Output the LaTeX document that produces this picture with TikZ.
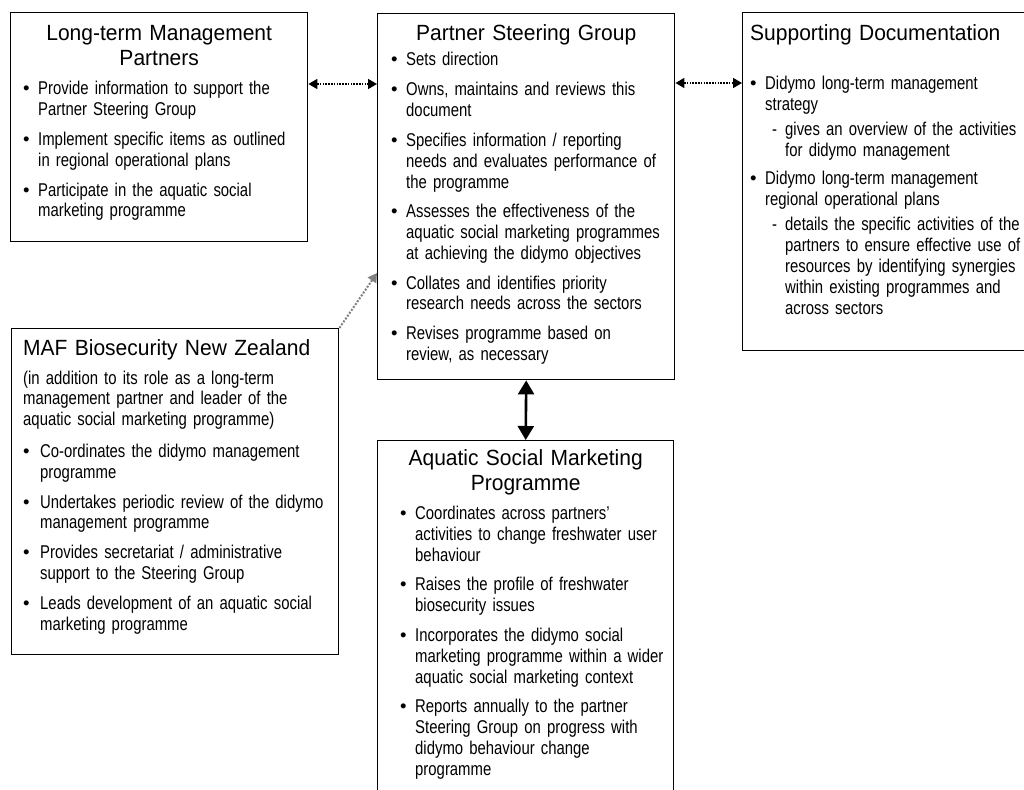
\documentclass[tikz,border=0pt]{standalone}
\usepackage{fontspec}
\setmainfont{Liberation Sans}
\newfontfamily\brodfont{Liberation Sans}[FakeStretch=0.805]
\newfontfamily\titelfont{Liberation Sans}[FakeStretch=0.955]
\usetikzlibrary{arrows.meta,positioning}
\definecolor{graa}{RGB}{128,128,128}
\newlength\bind
\setlength\bind{15pt}
\newcommand{\bitem}[2][9pt]{\par\hangindent=\bind\hangafter=1\noindent
    \makebox[\bind][l]{\normalfont\textbullet}\strut#2\par\vspace{#1}}
\newcommand{\ditem}[2][9pt]{\par\hangindent=35pt\hangafter=1\noindent
    \makebox[35pt][l]{\hspace{22pt}-}\strut#2\par\vspace{#1}}
\tikzset{
    >={Triangle[length=9pt,width=10pt]},
    boks/.style={
           draw=black, line width=1.4pt,
           anchor=north west,
           inner sep=0pt},
    titel/.style={
           font={\titelfont\fontsize{22pt}{25pt}\selectfont},
           inner sep=0pt},
    tekst/.style={
           font={\brodfont\fontsize{18.5pt}{20.8pt}\selectfont},
           inner sep=0pt},
    prikpil/.style={
           <->,
           line width=1.6pt, dash pattern=on 1.6pt off 1.2pt},
    graapil/.style={
           ->, draw=graa,
           line width=2pt, dash pattern=on 2pt off 1.5pt},
    pil/.style={
           {Triangle[length=14pt,width=16pt]}-{Triangle[length=14pt,width=16pt]},
           line width=2.6pt}
}

\begin{document}
\begin{tikzpicture}[x=1pt, y=-1pt]
        \useasboundingbox (0,0) rectangle (1024,789);
        % boxes
        \node[boks, minimum width=297pt, minimum height=229pt] (ltmp) at (10,12) {};
        \node[boks, minimum width=297pt, minimum height=366pt] (psg) at (377,13) {};
        \node[boks, minimum width=292pt, minimum height=338pt] (sd) at (742,12) {};
        \node[boks, minimum width=327pt, minimum height=326pt] (maf) at (11,328) {};
        \node[boks, minimum width=296pt, minimum height=360pt] (asmp) at (377,440) {};
        % titles
        \node[titel, text width=280pt, align=center, below=10.5pt of ltmp.north] (ltmp titel)
            {\strut Long-term Management\\Partners};
        \node[titel, text width=280pt, align=center, below=9.5pt of psg.north] (psg titel)
            {\strut Partner Steering Group};
        \node[titel, text width=270pt, align=left, below right=10.5pt and 8pt of sd.north west] (sd titel)
            {\strut Supporting Documentation};
        \node[titel, text width=310pt, align=left, below right=9.5pt and 12pt of maf.north west] (maf titel)
            {\strut MAF Biosecurity New Zealand};
        \node[titel, text width=280pt, align=center, below=7.5pt of asmp.north] (asmp titel)
            {\strut Aquatic Social Marketing\\Programme};
        % lists
        \node[tekst, text width=285pt, below right=62pt and 13pt of ltmp.north west] (ltmp liste) {%
            \bitem{Provide information to support the\newline Partner Steering Group}
            \bitem{Implement specific items as outlined\newline in regional operational plans}
            \bitem{Participate in the aquatic social\newline marketing programme}};
        \node[tekst, text width=285pt, below right=32pt and 14pt of psg.north west] (psg liste) {%
            \bitem{Sets direction}
            \bitem{Owns, maintains and reviews this\newline document}
            \bitem{Specifies information / reporting\newline needs and evaluates performance of\newline the programme}
            \bitem{Assesses the effectiveness of the\newline aquatic social marketing programmes\newline at achieving the didymo objectives}
            \bitem{Collates and identifies priority\newline research needs across the sectors}
            \bitem{Revises programme based on\newline review, as necessary}};
        \node[tekst, text width=275pt, below right=56.5pt and 8pt of sd.north west] (sd liste) {%
            \bitem[4.5pt]{Didymo long-term management\newline strategy}
            \ditem[7.5pt]{gives an overview of the activities\newline for didymo management}
            \bitem[4.5pt]{Didymo long-term management\newline regional operational plans}
            \ditem{details the specific activities of the\newline partners to ensure effective use of\newline resources by identifying synergies\newline within existing programmes and\newline across sectors}};
        \node[tekst, text width=315pt, below right=41.4pt and 12pt of maf.north west] (maf liste) {%
            \setlength\bind{17pt}%
            \noindent\strut(in addition to its role as a long-term\newline management partner and leader of the\newline aquatic social marketing programme)\par\vspace{11pt}
            \bitem{Co-ordinates the didymo management\newline programme}
            \bitem{Undertakes periodic review of the didymo\newline management programme}
            \bitem{Provides secretariat / administrative\newline support to the Steering Group}
            \bitem{Leads development of an aquatic social\newline marketing programme}};
        \node[tekst, text width=275pt, below right=58.5pt and 23pt of asmp.north west] (asmp liste) {%
            \bitem{Coordinates across partners’\newline activities to change freshwater user\newline behaviour}
            \bitem{Raises the profile of freshwater\newline biosecurity issues}
            \bitem{Incorporates the didymo social\newline marketing programme within a wider\newline aquatic social marketing context}
            \bitem{Reports annually to the partner\newline Steering Group on progress with\newline didymo behaviour change\newline programme}};
        % links
        \draw[prikpil] ([yshift=-72pt]ltmp.north east) -- ([yshift=-71pt]psg.north west);
        \draw[prikpil] ([yshift=-70pt]psg.north east) -- ([yshift=-71pt]sd.north west);
        \draw[graapil] (maf.north east) -- ([yshift=-260pt]psg.north west);
        \draw[pil] (psg.south) -- (asmp.north);
    \end{tikzpicture}
\end{document}
